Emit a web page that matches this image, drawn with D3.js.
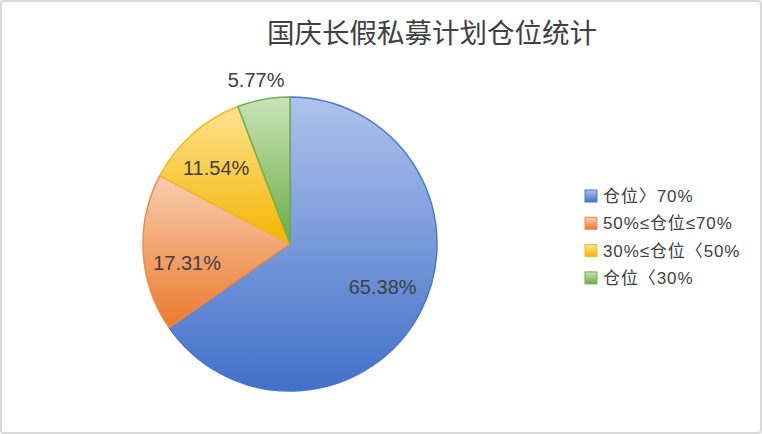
<!DOCTYPE html>
<html><head><meta charset="utf-8">
<script src="https://cdn.jsdelivr.net/npm/d3@7"></script>
<style>
html,body{margin:0;padding:0;background:#fff;}
svg{display:block;}
</style></head>
<body>
<svg id="chart" width="762" height="434"></svg>
<script>
const categories = ["仓位〉70%", "50%≤仓位≤70%", "30%≤仓位〈50%", "仓位〈30%"];
const values = [65.38, 17.31, 11.54, 5.77];
const labels = ["65.38%", "17.31%", "11.54%", "5.77%"];
const title = "国庆长假私募计划仓位统计";

const colorsTop = ["#aec2ec", "#f9cdb0", "#ffe392", "#c9e4b9"];
const colorsBottom = ["#4270c9", "#ec7a2c", "#f4b400", "#6aac44"];
const strokes = ["#4a76cc", "#ee8a48", "#f2bb1c", "#6fb04a"];

const svg = d3.select("#chart");
const W = 762, H = 434;

svg.append("rect").attr("x",1).attr("y",1).attr("width",W-2).attr("height",H-2)
  .attr("fill","#fff").attr("stroke","#d9d9d9").attr("stroke-width",2).attr("rx",3);

svg.append("text").attr("x",432).attr("y",43).attr("text-anchor","middle")
  .attr("font-family","'Noto Sans CJK SC', sans-serif").attr("font-size",27.5)
  .attr("fill","#404040").text(title);

const defs = svg.append("defs");
categories.forEach((c,i)=>{
  const g = defs.append("linearGradient").attr("id","g"+i)
    .attr("x1",0).attr("y1",0).attr("x2",0).attr("y2",1);
  g.append("stop").attr("offset","0%").attr("stop-color",colorsTop[i]);
  g.append("stop").attr("offset","100%").attr("stop-color",colorsBottom[i]);
});

const cx = 290, cy = 244, r = 147;
const pie = d3.pie().sort(null).value(d=>d);
const arcs = pie(values);
const arc = d3.arc().innerRadius(0).outerRadius(r);
const g = svg.append("g").attr("transform",`translate(${cx},${cy})`);

g.selectAll("path.slice").data(arcs).join("path").attr("class","slice")
  .attr("d",arc).attr("fill",(d,i)=>`url(#g${i})`)
  .attr("stroke",(d,i)=>strokes[i]).attr("stroke-width",1.5).attr("stroke-linejoin","round");

// label placement: radius factor and angular nudge (degrees) relative to slice mid-angle
const labelFactor = [0.695, 0.712, 0.72, 1.14];
const labelNudge = [-2.8, -7, -2.7, -1.3];
function lpos(d,i){
  const a = (d.startAngle+d.endAngle)/2 + labelNudge[i]*Math.PI/180;
  return [Math.sin(a)*r*labelFactor[i], -Math.cos(a)*r*labelFactor[i]];
}
g.selectAll("text.lbl").data(arcs).join("text").attr("class","lbl")
  .attr("x",(d,i)=>lpos(d,i)[0])
  .attr("y",(d,i)=>lpos(d,i)[1])
  .attr("dy","0.36em").attr("text-anchor","middle")
  .attr("font-family","'Liberation Sans', Arial, sans-serif").attr("font-size",20)
  .attr("fill","#404040").text((d,i)=>labels[i]);

const leg = svg.append("g").attr("transform","translate(585,196)");
const rows = leg.selectAll("g").data(categories).join("g")
  .attr("transform",(d,i)=>`translate(0,${i*27.3})`);
rows.append("rect").attr("x",0).attr("y",-6).attr("width",12).attr("height",12)
  .attr("fill",(d,i)=>`url(#g${i})`).attr("stroke",(d,i)=>strokes[i]).attr("stroke-width",1);
rows.append("text").attr("x",18).attr("y",0).attr("dy","0.36em")
  .attr("font-family","'Liberation Sans', 'Noto Sans CJK SC', sans-serif").attr("font-size",17)
  .attr("letter-spacing",0.9)
  .attr("fill","#404040").text(d=>d);
</script>
</body></html>
